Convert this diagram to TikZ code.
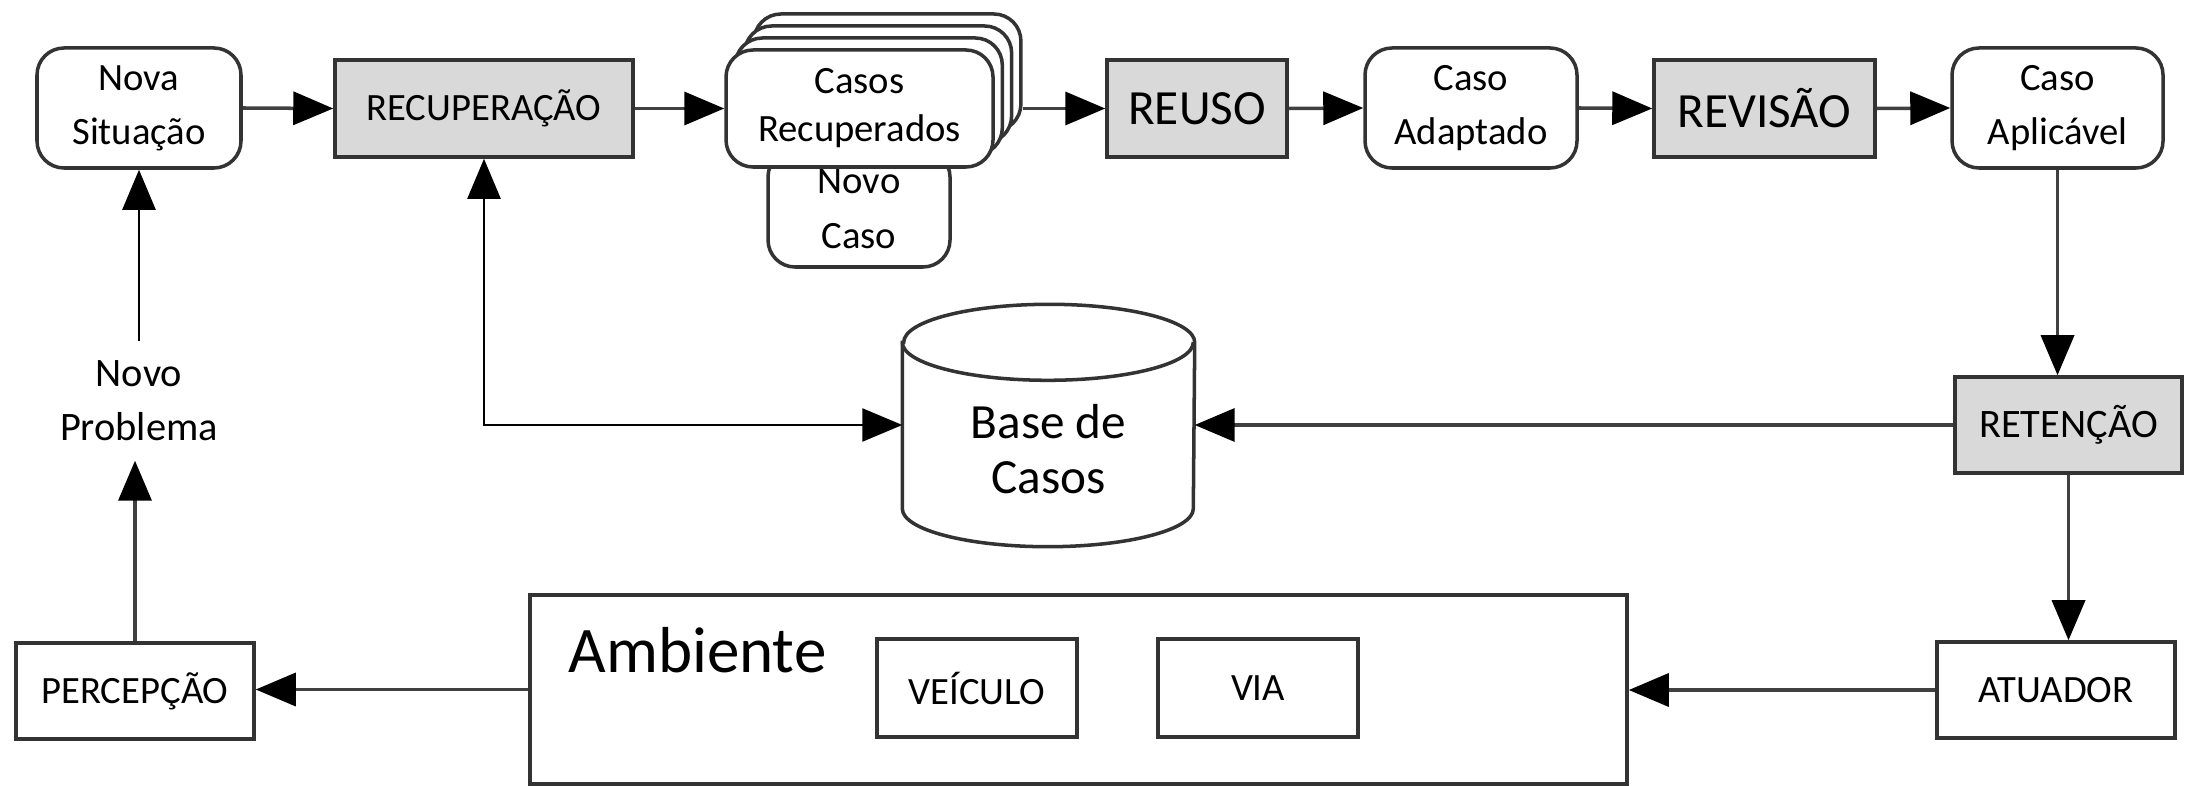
\documentclass[tikz,border=0pt]{standalone}
\usepackage{fontspec}
\setmainfont{Carlito}
\usetikzlibrary{arrows.meta}

\begin{document}
\begin{tikzpicture}[
        seta/.tip = {Triangle[length = 4mm, width = 3.3mm, color = black]},
        texto/.style = {font = \fontsize{11}{15.3}\selectfont, align = center},
        passo/.style = {texto, draw = black!80, line width = 1pt, fill = gray!30, minimum height = 0.97cm},
        caso/.style = {texto, draw = black!80, line width = 1pt, fill = white, rounded corners = 0.27cm, minimum height = 1.2cm},
        caixa/.style = {texto, draw = black!80, line width = 1pt, fill = white, minimum height = 0.96cm},
        fluxo/.style = {draw = black!75, line width = 1pt, -seta},
        fino/.style = {draw = black, line width = 0.7pt, -seta}
    ]
    \useasboundingbox (0,0) rectangle (21.95,-7.86);
    \node[caso, minimum width = 2.04cm] (nova) at (1.39,-1.08) {Nova\\Situação};
    \node[passo, minimum width = 2.98cm] (recup) at (4.84,-1.085) {RECUPERAÇÃO};
    \node[caso, minimum width = 2.67cm, minimum height = 1.17cm] (casosC) at (8.874,-0.725) {};
    \node[caso, minimum width = 2.67cm, minimum height = 1.17cm] (casosB) at (8.781,-0.845) {};
    \node[caso, minimum width = 2.67cm, minimum height = 1.17cm] (casosA) at (8.688,-0.965) {};
    \node[caso, minimum width = 1.82cm, minimum height = 1.17cm, font = \fontsize{11}{15.6}\selectfont] (novocaso) at (8.59,-2.085) {Novo\\Caso};
    \node[caso, minimum width = 2.67cm, minimum height = 1.17cm, font = \fontsize{11}{13.7}\selectfont] (casos) at (8.595,-1.085) {Casos\\Recuperados};
    \node[passo, minimum width = 1.80cm, font = \fontsize{14}{16}\selectfont] (reuso) at (11.97,-1.085) {REUSO};
    \node[caso, minimum width = 2.12cm] (adapt) at (14.71,-1.08) {Caso\\Adaptado};
    \node[passo, minimum width = 2.21cm, font = \fontsize{14}{16}\selectfont] (revisao) at (17.645,-1.085) {REVISÃO};
    \node[caso, minimum width = 2.11cm] (aplic) at (20.575,-1.08) {Caso\\Aplicável};
    \node[passo, minimum width = 2.27cm, minimum height = 0.96cm, font = \fontsize{11.5}{14}\selectfont] (reten) at (20.685,-4.25) {RETENÇÃO};
    \node[minimum width = 2.91cm, minimum height = 2.41cm] (base) at (10.485,-4.255) {};
    \draw[draw = black!80, line width = 1pt, fill = white] ([yshift = -0.38cm]base.north west) -- ([yshift = 0.38cm]base.south west) arc[start angle = 180, end angle = 360, x radius = 1.455cm, y radius = 0.38cm] -- ([yshift = -0.38cm]base.north east) arc[start angle = 0, end angle = 180, x radius = 1.455cm, y radius = 0.38cm] -- cycle;
    \draw[draw = black!80, line width = 1pt] ([yshift = -0.38cm]base.north west) arc[start angle = 180, end angle = 360, x radius = 1.455cm, y radius = 0.38cm];
    \node[texto, font = \fontsize{14}{15.7}\selectfont] (basetxt) at ([yshift = -0.24cm]base.center) {Base de\\Casos};
    \node[texto, minimum height = 1.18cm, font = \fontsize{11.5}{15.3}\selectfont] (novoprob) at (1.39,-4.01) {Novo\\Problema};
    \node[caixa, minimum width = 2.38cm] (percep) at (1.35,-6.91) {PERCEPÇÃO};
    \node[caixa, minimum width = 10.97cm, minimum height = 1.89cm] (ambiente) at (10.785,-6.895) {};
    \node[anchor = base west, font = \fontsize{18.5}{20}\selectfont] (ambtxt) at (5.56,-6.72) {Ambiente};
    \node[caixa, minimum width = 2cm, minimum height = 0.98cm] (veiculo) at (9.77,-6.88) {VEÍCULO};
    \node[caixa, minimum width = 2cm, minimum height = 0.98cm] (via) at (12.58,-6.88) {VIA};
    \node[caixa, minimum width = 2.38cm] (atuador) at (20.56,-6.90) {ATUADOR};
    \draw[fluxo] (nova.east) -- (recup.west);
    \draw[fluxo] (recup.east) -- (casos.west);
    \draw[fluxo] (casosC.east |- reuso.west) -- (reuso.west);
    \draw[fluxo] (reuso.east) -- (adapt.west);
    \draw[fluxo] (adapt.east) -- (revisao.west);
    \draw[fluxo] (revisao.east) -- (aplic.west);
    \draw[fluxo] (aplic.south) -- (aplic.south |- reten.north);
    \draw[fluxo] (reten.west) -- (reten.west -| base.east);
    \draw[fluxo] (reten.south) -- (reten.south |- atuador.north);
    \draw[fluxo] (atuador.west) -- (atuador.west -| ambiente.east);
    \draw[fluxo] (ambiente.west) -- (ambiente.west -| percep.east);
    \draw[fluxo] (percep.north) -- (percep.north |- novoprob.south);
    \draw[fino] (novoprob.north) -- (nova.south);
    \draw[fino, seta-seta] (recup.south) |- (base.west |- reten.west);
\end{tikzpicture}
\end{document}
